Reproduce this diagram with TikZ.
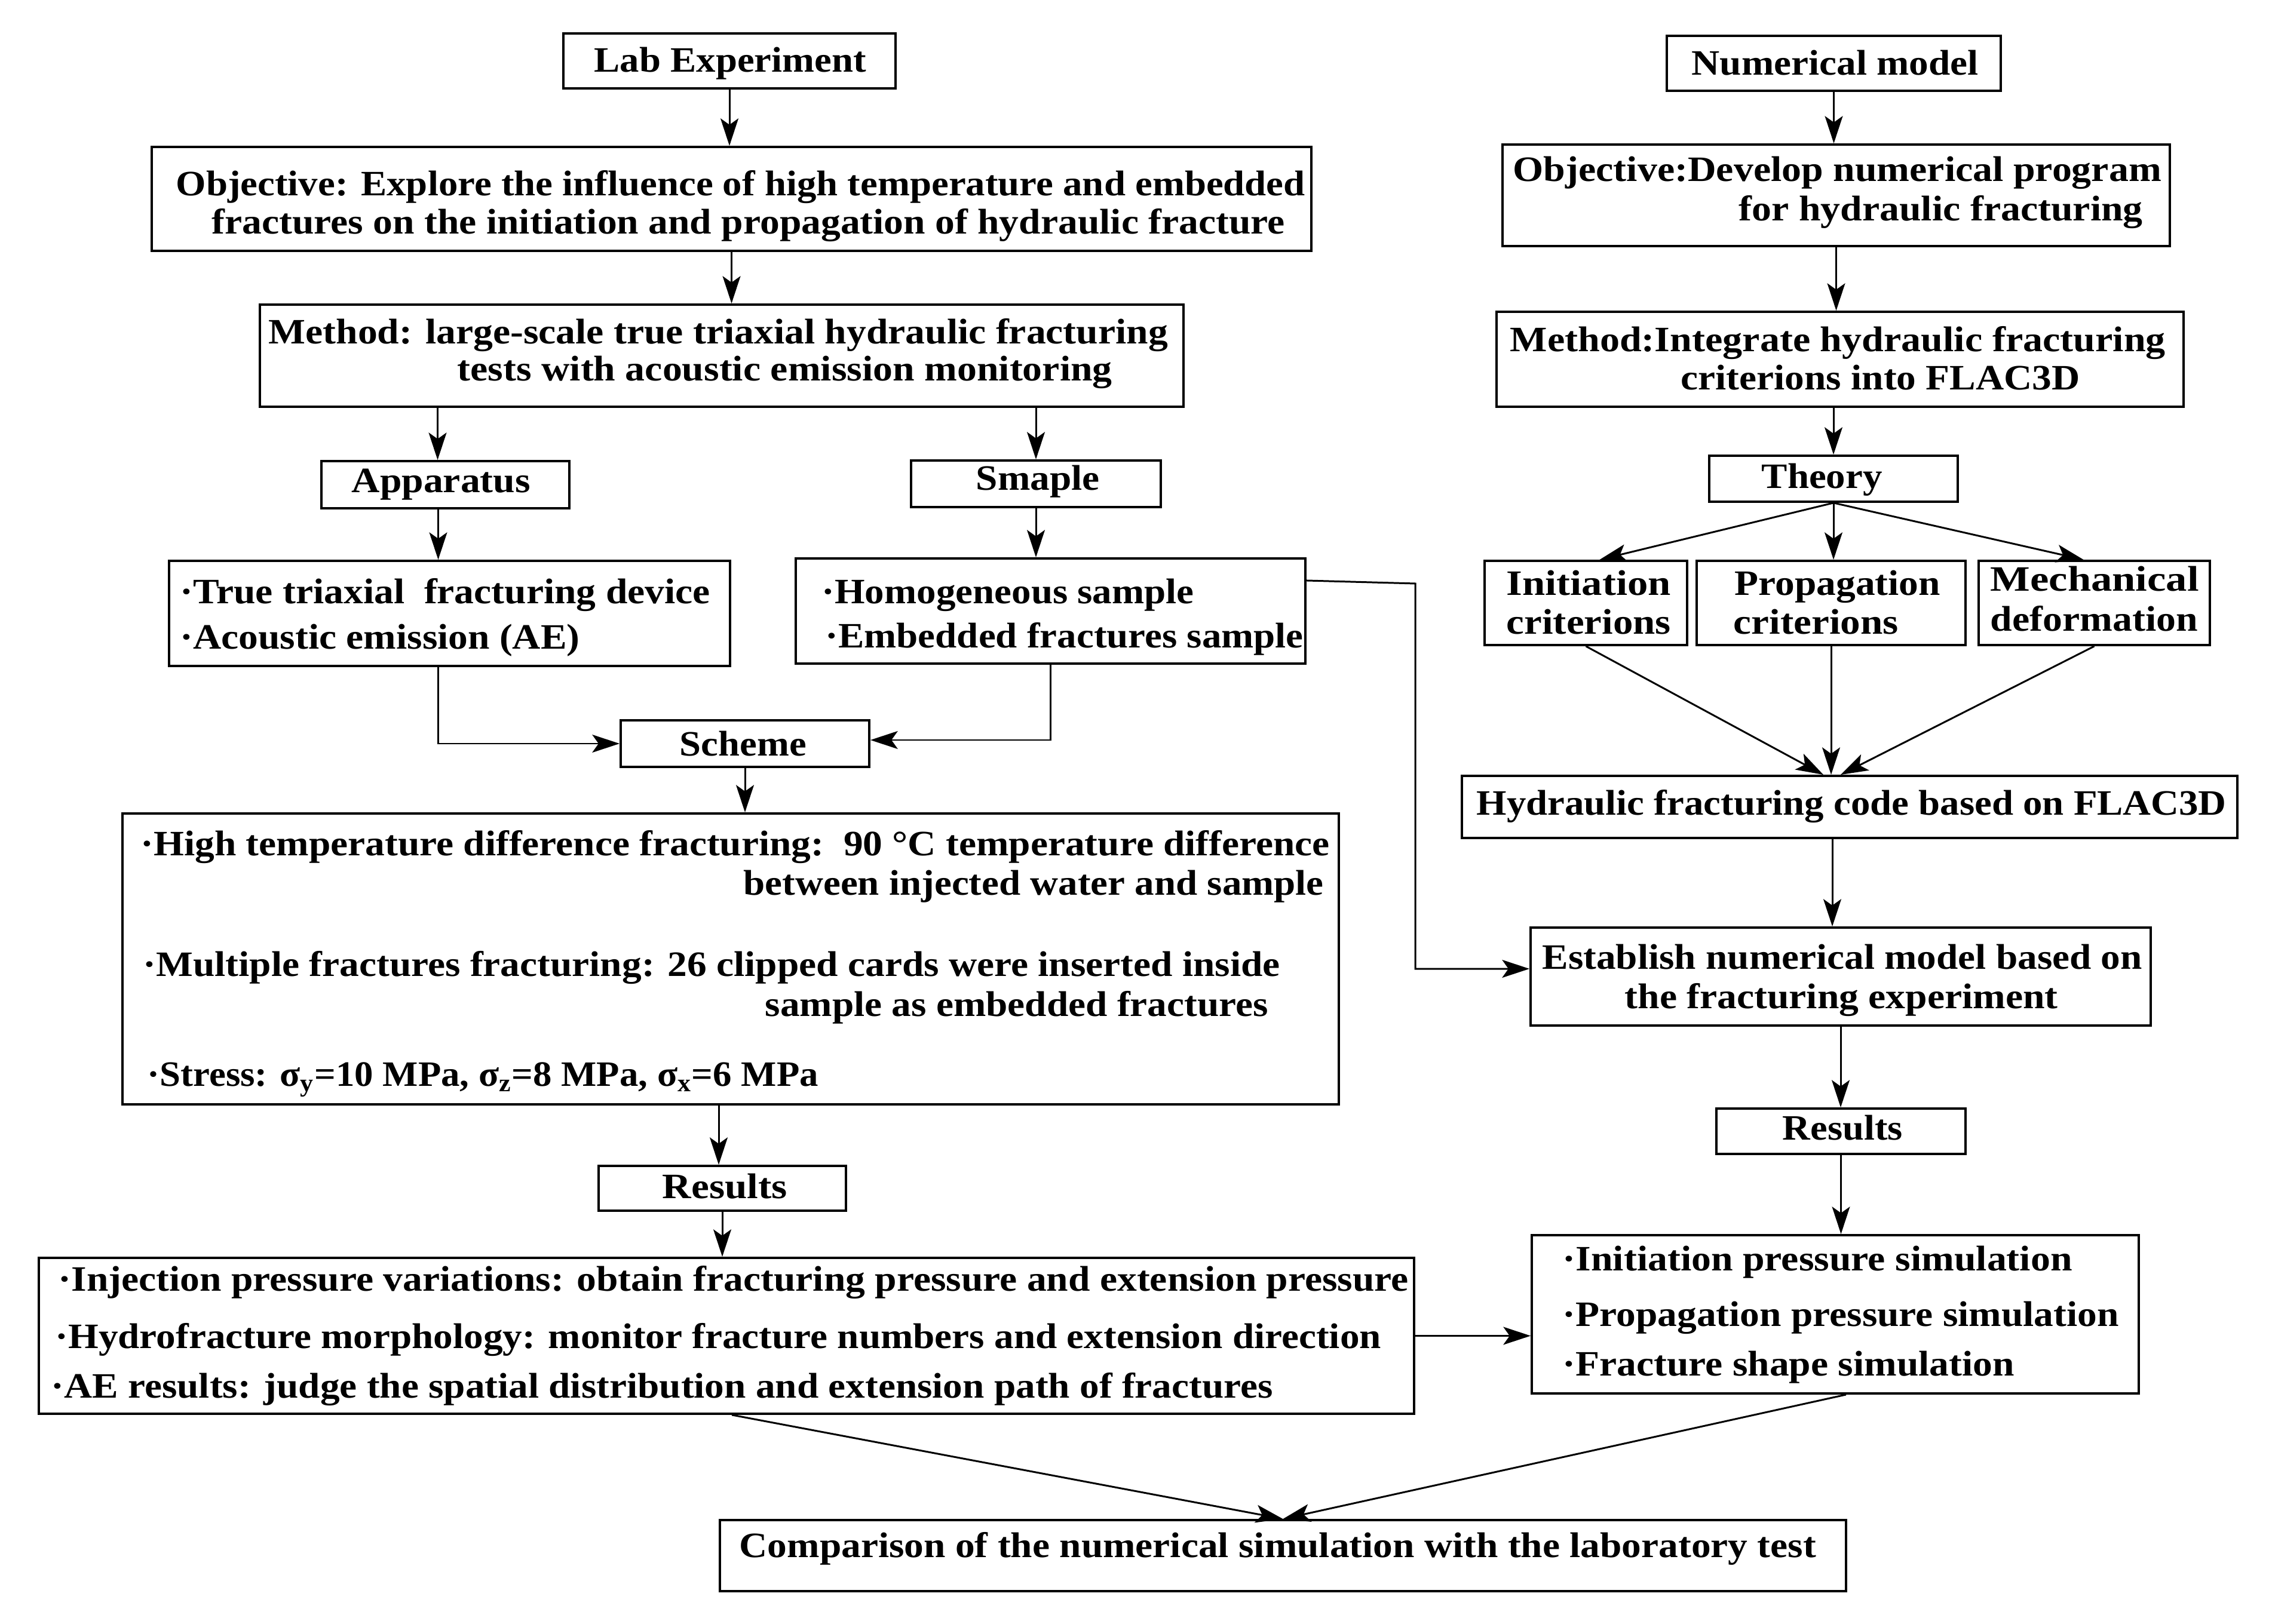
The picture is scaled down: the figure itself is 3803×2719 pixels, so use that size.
\documentclass[tikz,border=0pt]{standalone}
\usepackage{fontspec}
\setmainfont{Liberation Serif}
\usetikzlibrary{arrows.meta,calc,fit}
\newlength\pxu
\setlength\pxu{0.01cm}
\newcommand\fw[2]{\resizebox{#1\pxu}{\height}{#2}}
\begin{document}
\begin{tikzpicture}[x=0.01cm,y=-0.01cm,
  box/.style={draw,line width=1.1pt,inner sep=0pt},
  txt/.style={inner sep=0pt,anchor=base west,font=\fontsize{17}{20}\selectfont\bfseries},
  arr/.style={line width=0.85pt,-{Stealth[length=13pt,width=8.5pt,inset=3pt]}},
  ln/.style={line width=0.8pt}]
\fill[white] (0,0) rectangle (3803,2719);
\useasboundingbox (0,0) rectangle (3803,2719);
% ---------- boxes: left column
\node[box,fit={(943,56) (1499,148)}] (lab) {};
\node[box,fit={(254,246) (2195,420)}] (objL) {};
\node[box,fit={(435,510) (1981,681)}] (methL) {};
\node[box,fit={(538,772) (953,851)}] (app) {};
\node[box,fit={(1525,771) (1943,849)}] (smp) {};
\node[box,fit={(283,939) (1222,1115)}] (dev) {};
\node[box,fit={(1332,935) (2185,1111)}] (hom) {};
\node[box,fit={(1039,1206) (1455,1284)}] (scheme) {};
\node[box,fit={(205,1362) (2241,1849)}] (bigL) {};
\node[box,fit={(1002,1952) (1416,2027)}] (resL) {};
\node[box,fit={(65,2106) (2367,2367)}] (resLbox) {};
\node[box,fit={(2564,2068) (3580,2333)}] (resRbox) {};
\node[box,fit={(1205,2545) (3090,2664)}] (comp) {};
% ---------- boxes: right column
\node[box,fit={(2790,60) (3349,152)}] (num) {};
\node[box,fit={(2515,242) (3632,412)}] (objR) {};
\node[box,fit={(2505,522) (3655,681)}] (methR) {};
\node[box,fit={(2861,763) (3277,840)}] (theory) {};
\node[box,fit={(2485,939) (2824,1080)}] (init) {};
\node[box,fit={(2840,939) (3290,1080)}] (prop) {};
\node[box,fit={(3312,939) (3699,1080)}] (mech) {};
\node[box,fit={(2447,1299) (3745,1403)}] (code) {};
\node[box,fit={(2562,1553) (3600,1717)}] (est) {};
\node[box,fit={(2873,1856) (3290,1932)}] (resR) {};
% ---------- texts
\node[txt] (t-lab) at (994,121) {\fw{455}{Lab Experiment}};
\node[txt] (t-objL1) at (294,328) {\fw{1890}{Objective: Explore the influence of high temperature and embedded}};
\node[txt] (t-objL2) at (354,392) {\fw{1796}{fractures on the initiation and propagation of hydraulic fracture}};
\node[txt] (t-methL1) at (449,576) {\fw{1505}{Method: large-scale true triaxial hydraulic fracturing}};
\node[txt] (t-methL2) at (765,638) {\fw{1096}{tests with acoustic emission monitoring}};
\node[txt] (t-app) at (588,825) {\fw{299}{Apparatus}};
\node[txt] (t-smp) at (1633,821) {\fw{207}{Smaple}};
\node[txt] (t-dev1) at (301,1011) {\fw{887}{·True triaxial\ \ fracturing device}};
\node[txt] (t-dev2) at (301,1086) {\fw{669}{·Acoustic emission (AE)}};
\node[txt] (t-hom1) at (1375,1011) {\fw{623}{·Homogeneous sample}};
\node[txt] (t-hom2) at (1381,1084) {\fw{800}{·Embedded fractures sample}};
\node[txt] (t-scheme) at (1137,1265) {\fw{212}{Scheme}};
\node[txt] (t-big1) at (235,1432) {\fw{1990}{·High temperature difference fracturing:\ \ 90 °C temperature difference}};
\node[txt] (t-big2) at (1244,1498) {\fw{971}{between injected water and sample}};
\node[txt] (t-big3) at (239,1634) {\fw{1903}{·Multiple fractures fracturing: 26 clipped cards were inserted inside}};
\node[txt] (t-big4) at (1280,1701) {\fw{842}{sample as embedded fractures}};
\node[txt] (t-big5) at (246,1818) {\fw{1123}{·Stress: σ\textsubscript{y}=10 MPa, σ\textsubscript{z}=8 MPa, σ\textsubscript{x}=6 MPa}};
\node[txt] (t-resL) at (1108,2006) {\fw{209}{Results}};
\node[txt] (t-rl1) at (97,2161) {\fw{2260}{·Injection pressure variations: obtain fracturing pressure and extension pressure}};
\node[txt] (t-rl2) at (92,2257) {\fw{2219}{·Hydrofracture morphology: monitor fracture numbers and extension direction}};
\node[txt] (t-rl3) at (85,2340) {\fw{2045}{·AE results: judge the spatial distribution and extension path of fractures}};
\node[txt] (t-rr1) at (2615,2127) {\fw{853}{·Initiation pressure simulation}};
\node[txt] (t-rr2) at (2615,2220) {\fw{931}{·Propagation pressure simulation}};
\node[txt] (t-rr3) at (2615,2303) {\fw{756}{·Fracture shape simulation}};
\node[txt] (t-comp) at (1237,2607) {\fw{1802}{Comparison of the numerical simulation with the laboratory test}};
\node[txt] (t-num) at (2831,126) {\fw{480}{Numerical model}};
\node[txt] (t-objR1) at (2532,304) {\fw{1085}{Objective:Develop numerical program}};
\node[txt] (t-objR2) at (2910,370) {\fw{676}{for hydraulic fracturing}};
\node[txt] (t-methR1) at (2527,589) {\fw{1097}{Method:Integrate hydraulic fracturing}};
\node[txt] (t-methR2) at (2813,653) {\fw{668}{criterions into FLAC3D}};
\node[txt] (t-theory) at (2948,818) {\fw{202}{Theory}};
\node[txt] (t-init1) at (2521,996) {\fw{275}{Initiation}};
\node[txt] (t-init2) at (2521,1061) {\fw{275}{criterions}};
\node[txt] (t-prop1) at (2903,996) {\fw{344}{Propagation}};
\node[txt] (t-prop2) at (2901,1061) {\fw{276}{criterions}};
\node[txt] (t-mech1) at (3331,989) {\fw{349}{Mechanical}};
\node[txt] (t-mech2) at (3331,1056) {\fw{347}{deformation}};
\node[txt] (t-code) at (2471,1364) {\fw{1255}{Hydraulic fracturing code based on FLAC3D}};
\node[txt] (t-est1) at (2581,1622) {\fw{1004}{Establish numerical model based on}};
\node[txt] (t-est2) at (2719,1688) {\fw{725}{the fracturing experiment}};
\node[txt] (t-resR) at (2983,1908) {\fw{201}{Results}};
% ---------- connectors: left column
\draw[arr] (lab.south) -- (lab.south |- objL.north);
\draw[arr] (objL.south) -- (objL.south |- methL.north);
\draw[arr] ($(app.north |- methL.south)+(-13,0)$) -- ($(app.north)+(-13,0)$);
\draw[arr] (smp.north |- methL.south) -- (smp.north);
\draw[arr] ($(app.south)+(-12,0)$) -- ($(app.south |- dev.north)+(-12,0)$);
\draw[arr] (smp.south) -- (smp.south |- hom.north);
\draw[arr] ($(dev.south)+(-19,0)$) |- (scheme.west);
\draw[arr] (hom.south) |- ($(scheme.east)+(0,-6)$);
\draw[arr] (scheme.south) -- (scheme.south |- bigL.north);
\draw[arr] ($(resL.north |- bigL.south)+(-6,0)$) -- ($(resL.north)+(-6,0)$);
\draw[arr] (resL.south) -- (resL.south |- resLbox.north);
\draw[arr] (resLbox.east) -- (resLbox.east -| resRbox.west);
\draw[arr] ($(resLbox.south)+(9,0)$) -- (comp.north);
\draw[arr] ($(resRbox.south)+(18,0)$) -- (comp.north);
% ---------- connectors: right column
\draw[arr] (num.south) -- (num.south |- objR.north);
\draw[arr] (objR.south) -- (objR.south |- methR.north);
\draw[arr] (theory.north |- methR.south) -- (theory.north);
\draw[arr] (theory.south) -- ($(init.north)+(23,0)$);
\draw[arr] (theory.south) -- (theory.south |- prop.north);
\draw[arr] (theory.south) -- ($(mech.north)+(-18,0)$);
\draw[arr] (init.south) -- ($(code.north)+(-44,0)$);
\draw[arr] (prop.south) -- (prop.south |- code.north);
\draw[arr] (mech.south) -- ($(code.north)+(-15,0)$);
\draw[arr] ($(code.south)+(-29,0)$) -- ($(code.south |- est.north)+(-29,0)$);
\draw[arr] (est.south) -- (est.south |- resR.north);
\draw[arr] (resR.south) -- (resR.south |- resRbox.north);
% ---------- cross connector
\coordinate (bend) at (2369,977);
\draw[arr] ([yshift=0.51cm]hom.east) -- (bend) |- ($(est.west)+(0,-13)$);
\end{tikzpicture}
\end{document}
